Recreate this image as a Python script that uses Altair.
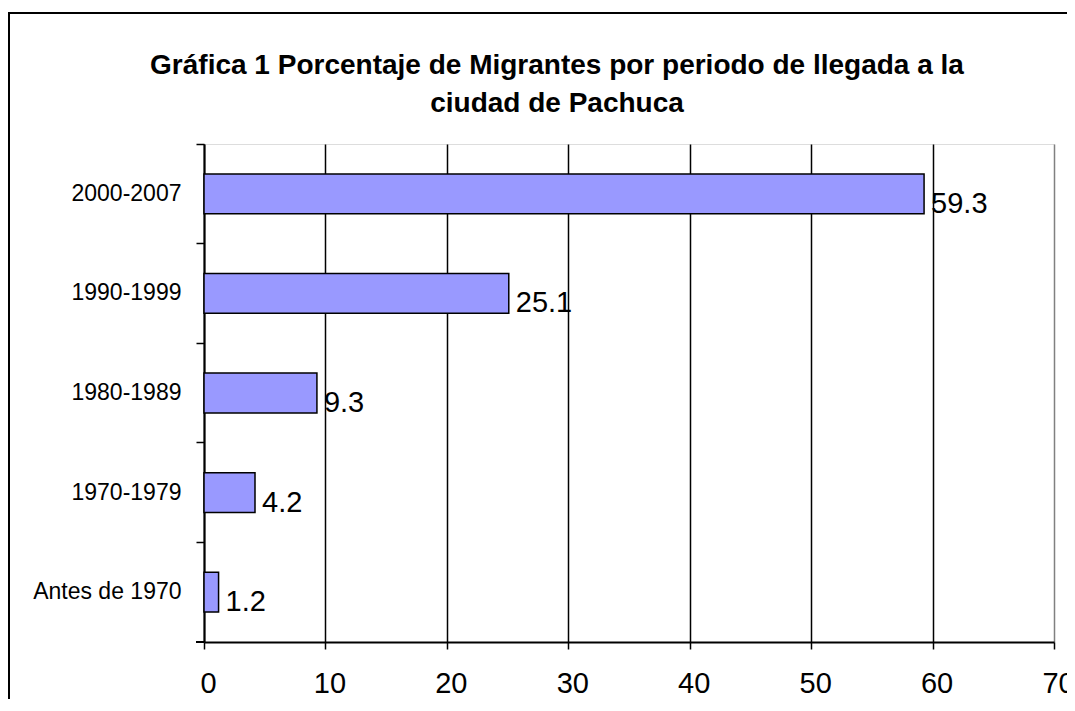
import altair as alt
import pandas as pd

periods = ["2000-2007", "1990-1999", "1980-1989", "1970-1979", "Antes de 1970"]
values = [59.3, 25.1, 9.3, 4.2, 1.2]
value_labels = ["59.3", "25.1", "9.3", "4.2", "1.2"]
x_ticks = [0, 10, 20, 30, 40, 50, 60, 70]
title_lines = ["Gráfica 1 Porcentaje de Migrantes por periodo de llegada a la",
               "ciudad de Pachuca"]

df = pd.DataFrame({"periodo": periods, "pct": values, "label": value_labels})

W, H = 850, 498
FONT = "Liberation Sans"

x_enc = alt.X(
    "pct:Q",
    scale=alt.Scale(domain=[0, 70], nice=False, zero=True),
    axis=alt.Axis(
        values=x_ticks, title=None, grid=True,
        gridColor={"condition": {"test": "datum.value === 70", "value": "#808080"}, "value": "black"},
        gridWidth=1.5, domainColor="black", domainWidth=2,
        tickColor="black", tickWidth=1.5, tickSize=7,
        labelFontSize=29, labelFont=FONT, labelColor="black",
        labelPadding=20, labelOffset=4, labelFlush=False,
    ),
)
y_enc = alt.Y(
    "periodo:N", sort=periods,
    scale=alt.Scale(paddingInner=0, paddingOuter=0),
    axis=alt.Axis(
        title=None, grid=False, bandPosition=0,
        domainColor="black", domainWidth=2,
        tickColor="black", tickWidth=1.5, tickSize=8,
        labelFontSize=23, labelFont=FONT, labelColor="black",
        labelPadding=15,
    ),
)

bars = alt.Chart(df).mark_bar(
    fill="#9999FF", stroke="black", strokeWidth=1.5,
    height=alt.RelativeBandSize(band=0.4),
).encode(x=x_enc, y=y_enc)

texts = alt.Chart(df).mark_text(
    align="left", baseline="alphabetic", dx=7, dy=19,
    fontSize=29, font=FONT, color="black",
).encode(x=alt.X("pct:Q"), y=alt.Y("periodo:N", sort=periods), text="label:N")

border = alt.Chart(df).mark_rect(
    fill="transparent", stroke="black", strokeWidth=2
).encode(x=alt.value(-195), y=alt.value(-131), x2=alt.value(W + 300), y2=alt.value(H + 300))

corner_tick = alt.Chart(df).mark_rule(color="black", strokeWidth=1.5).encode(
    x=alt.value(-8), x2=alt.value(0), y=alt.value(H)
)

chart = alt.layer(border, bars, texts, corner_tick).properties(
    width=W, height=H,
    autosize=alt.AutoSizeParams(type="none"),
    padding={"left": 196, "top": 136, "right": 13, "bottom": 57},
    title=alt.TitleParams(
        text=title_lines, fontSize=28, font=FONT, fontWeight="bold",
        color="black", anchor="middle", frame="group", dx=-72,
        baseline="alphabetic", offset=-128, lineHeight=38,
    ),
).configure_view(stroke="#808080", strokeWidth=2).configure(background="white")

chart.save("out.html", embed_options={"renderer": "svg", "actions": False})
